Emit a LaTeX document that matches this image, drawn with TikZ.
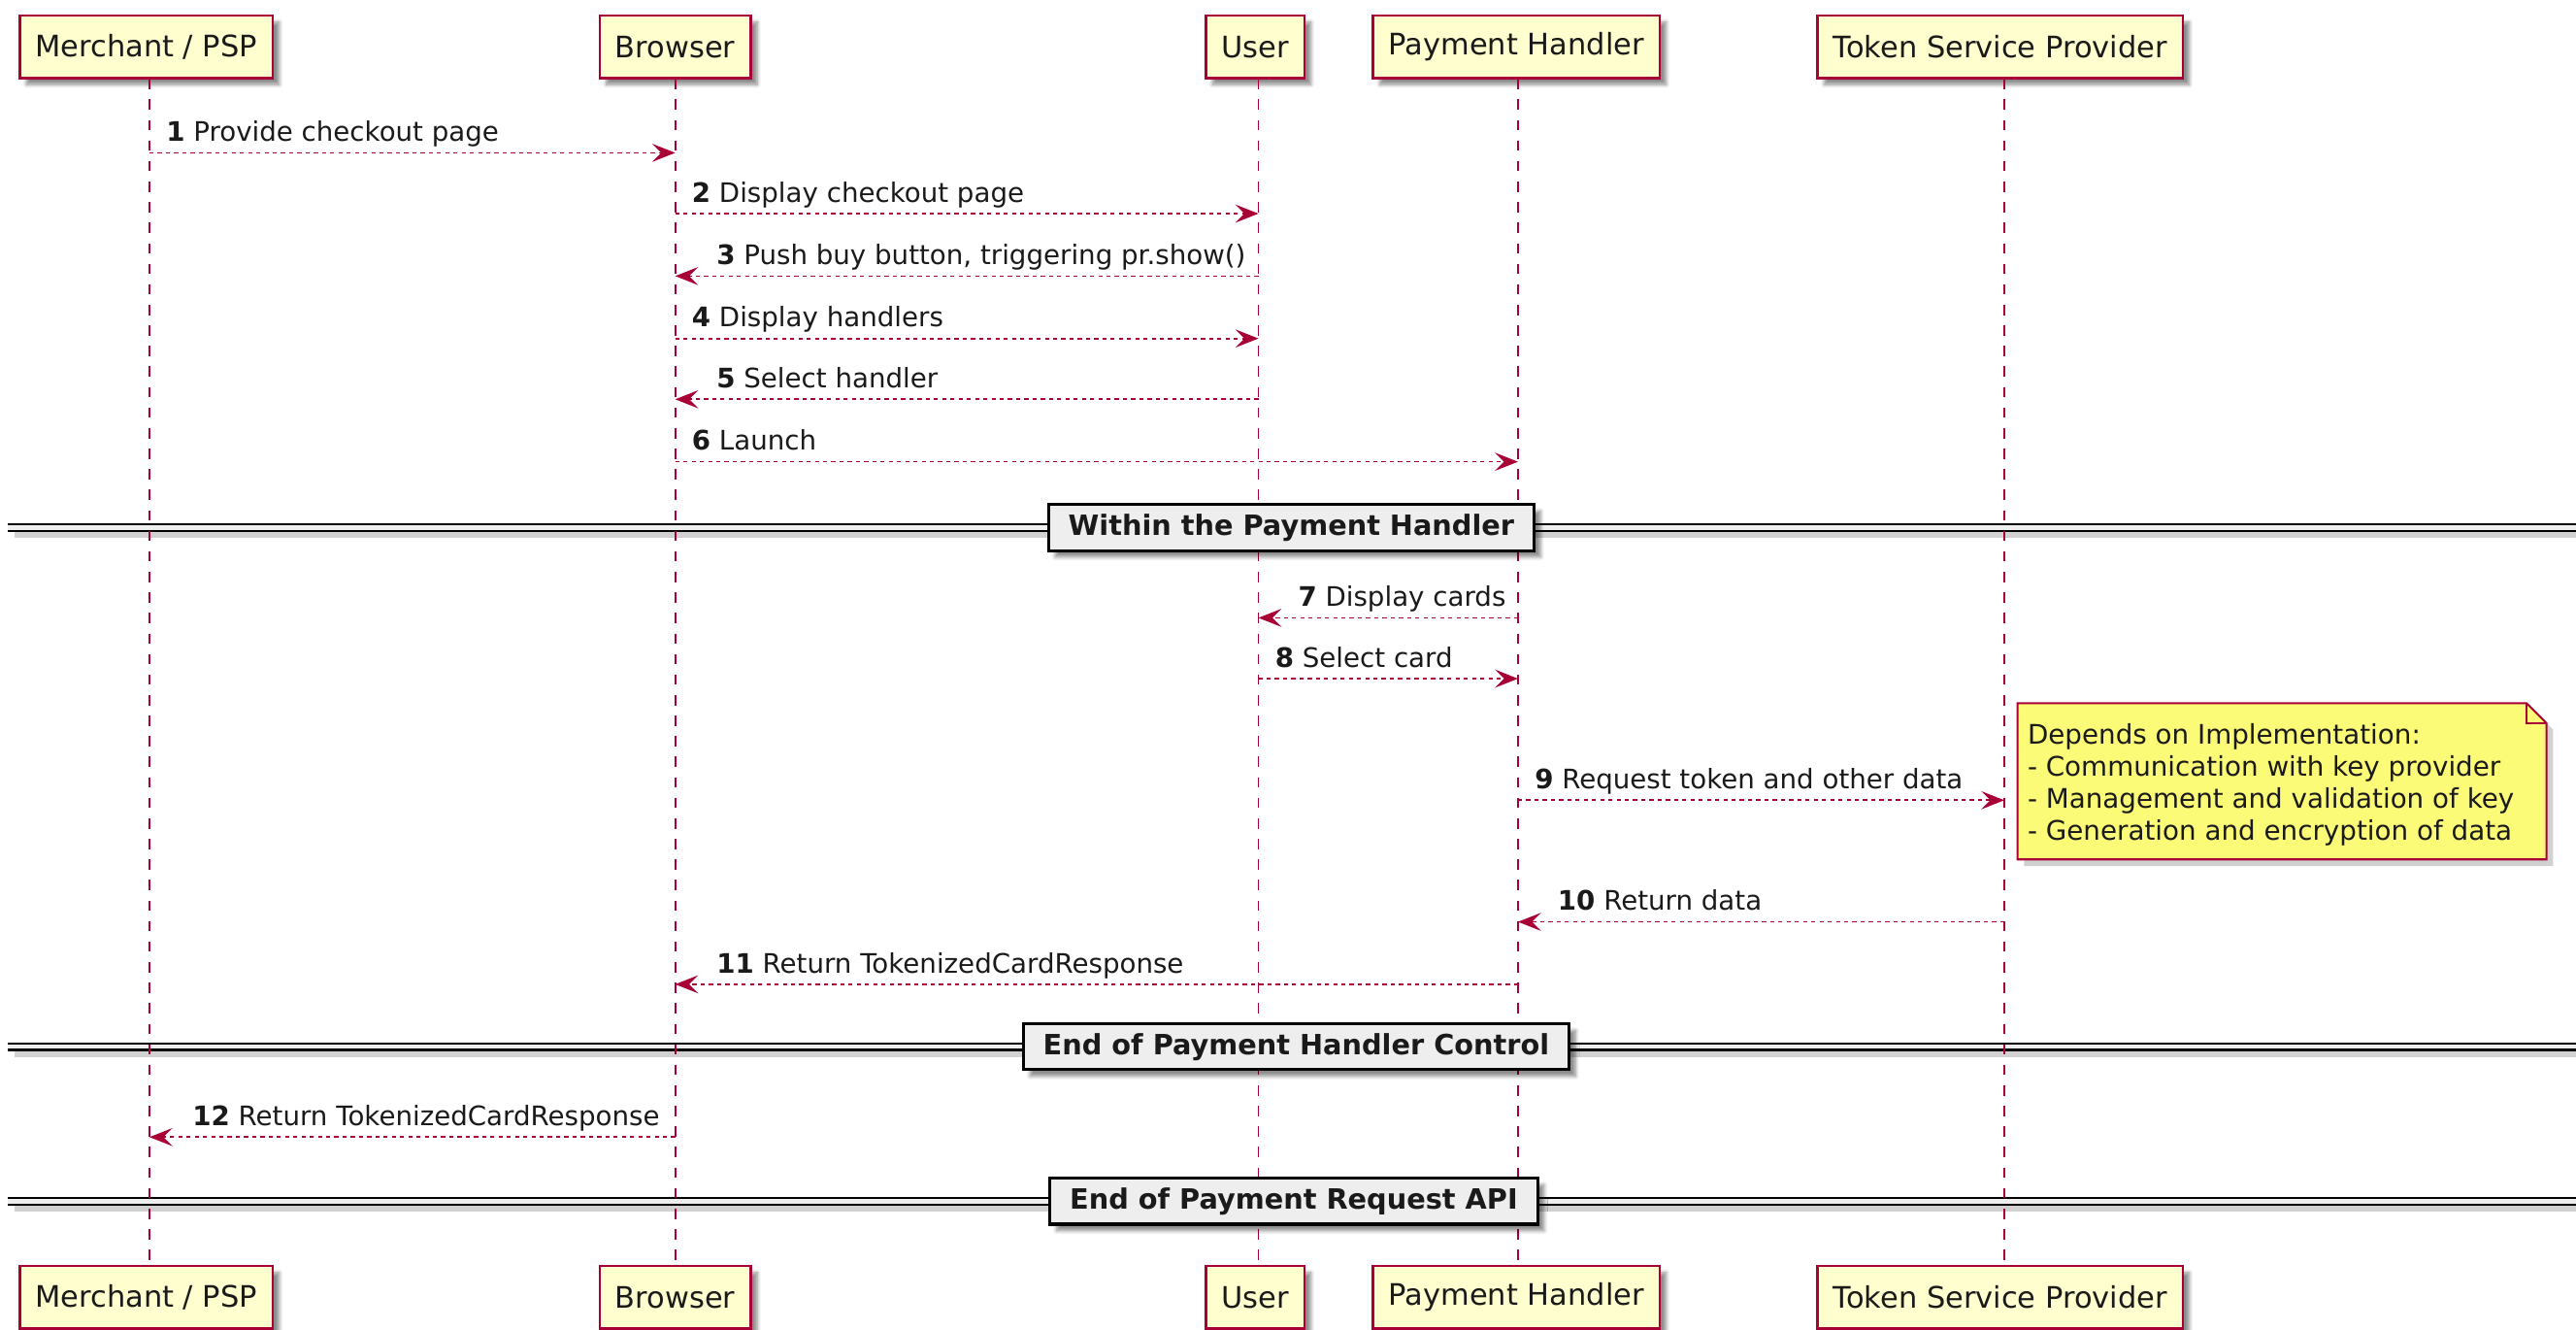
\documentclass[tikz,border=0pt]{standalone}
\usepackage{fontspec}
\setmainfont{DejaVu Sans}
\usetikzlibrary{arrows.meta,shadows.blur,backgrounds,calc}
\definecolor{umlred}{HTML}{A80036}
\definecolor{partfill}{HTML}{FEFECE}
\definecolor{notefill}{HTML}{FBFB77}
\definecolor{sepfill}{HTML}{EEEEEE}
\definecolor{txt}{HTML}{1A1A1A}
\tikzset{
  partbox/.style={draw=umlred, line width=1.5pt, fill=partfill, minimum height=38pt,
    inner xsep=9.5pt, text=txt, font=\fontsize{18}{21}\selectfont,
    blur shadow={shadow xshift=4pt, shadow yshift=-4pt, shadow blur steps=6, shadow opacity=45}},
  lifeline/.style={draw=umlred, line width=1pt, dash pattern=on 6.25pt off 6.25pt},
  msg/.style={draw=umlred, line width=1pt, dash pattern=on 2.5pt off 2.5pt,
    -{Stealth[length=14pt,width=11pt,inset=5.5pt,fill=umlred]}},
  lbl/.style={font=\fontsize{16.35}{19.5}\selectfont, text=txt, inner sep=0pt},
  sepline/.style={line width=1.3pt, draw=black, double=sepfill, double distance=2.6pt},
  sepshadow/.style={line width=5pt, draw=black!18},
  sepbox/.style={draw=black, line width=1.8pt, fill=sepfill, minimum height=28pt,
    inner xsep=12pt, text=txt, font=\fontsize{17}{20}\selectfont\bfseries,
    blur shadow={shadow xshift=4pt, shadow yshift=-4pt, shadow blur steps=6, shadow opacity=45}},
  notetext/.style={font=\fontsize{16.4}{19.5}\selectfont, text=txt, align=left, inner sep=0pt},
  notebox/.style={draw=umlred, line width=1.2pt, fill=notefill},
}
\begin{document}
\begin{tikzpicture}[x=1pt,y=-1pt]
\useasboundingbox (0,0) rectangle (1568,809);
% row coordinates
\coordinate (r1) at (0,93);
\coordinate (r2) at (0,130);
\coordinate (r3) at (0,168);
\coordinate (r4) at (0,206);
\coordinate (r5) at (0,243);
\coordinate (r6) at (0,281);
\coordinate (s1) at (0,321);
\coordinate (r7) at (0,376);
\coordinate (r8) at (0,413);
\coordinate (r9) at (0,487);
\coordinate (r10) at (0,561);
\coordinate (r11) at (0,599);
\coordinate (s2) at (0,637);
\coordinate (r12) at (0,692);
\coordinate (s3) at (0,731);
\coordinate (sl) at (5,0);
\coordinate (sr) at (1568,0);

% participants
\node[partbox] (mer) at (89,28.5) {Merchant / PSP};
\node[partbox] (bro) at (411,28.5) {Browser};
\node[partbox] (usr) at (764,28.5) {User};
\node[partbox] (ph) at (923,28.5) {Payment Handler};
\node[partbox] (tsp) at (1217.5,28.5) {Token Service Provider};
\node[partbox] (merB) at (89,789.5) {Merchant / PSP};
\node[partbox] (broB) at (411,789.5) {Browser};
\node[partbox] (usrB) at (764,789.5) {User};
\node[partbox] (phB) at (923,789.5) {Payment Handler};
\node[partbox] (tspB) at (1217.5,789.5) {Token Service Provider};

% lifeline anchor points (lifelines sit at these x positions)
\coordinate (merT) at (91,48);   \coordinate (merE) at (91,771);
\coordinate (broT) at (411,48);  \coordinate (broE) at (411,771);
\coordinate (usrT) at (766,48);  \coordinate (usrE) at (766,771);
\coordinate (phT) at (924,48);   \coordinate (phE) at (924,771);
\coordinate (tspT) at (1220,48); \coordinate (tspE) at (1220,771);

% separator lines (under lifelines)
\foreach \s in {s1,s2,s3}{
  \draw[sepshadow] ($(sl |- \s)+(4,4)$) -- ($(sr |- \s)+(4,4)$);
  \draw[sepline] (sl |- \s) -- (sr |- \s);
}

% lifelines
\draw[lifeline] (merT) -- (merE);
\draw[lifeline] (broT) -- (broE);
\draw[lifeline] (usrT) -- (usrE);
\draw[lifeline] (phT) -- (phE);
\draw[lifeline] (tspT) -- (tspE);

% separator boxes
\node[sepbox] (sep1) at (786,321) {Within the Payment Handler};
\node[sepbox] (sep2) at (789,637) {End of Payment Handler Control};
\node[sepbox] (sep3) at (787.5,731) {End of Payment Request API};

% messages
\draw[msg] (merT |- r1) -- (broT |- r1);
\node[lbl, anchor=base west] (l1) at ($(merT |- r1)+(10,-7)$) {\textbf{1} Provide checkout page};
\draw[msg] (broT |- r2) -- (usrT |- r2);
\node[lbl, anchor=base west] (l2) at ($(broT |- r2)+(10,-7)$) {\textbf{2} Display checkout page};
\draw[msg] (usrT |- r3) -- (broT |- r3);
\node[lbl, anchor=base west] (l3) at ($(broT |- r3)+(25,-7)$) {\textbf{3} Push buy button, triggering pr.show()};
\draw[msg] (broT |- r4) -- (usrT |- r4);
\node[lbl, anchor=base west] (l4) at ($(broT |- r4)+(10,-7)$) {\textbf{4} Display handlers};
\draw[msg] (usrT |- r5) -- (broT |- r5);
\node[lbl, anchor=base west] (l5) at ($(broT |- r5)+(25,-7)$) {\textbf{5} Select handler};
\draw[msg] (broT |- r6) -- (phT |- r6);
\node[lbl, anchor=base west] (l6) at ($(broT |- r6)+(10,-7)$) {\textbf{6} Launch};
\draw[msg] (phT |- r7) -- (usrT |- r7);
\node[lbl, anchor=base west] (l7) at ($(usrT |- r7)+(24,-7)$) {\textbf{7} Display cards};
\draw[msg] (usrT |- r8) -- (phT |- r8);
\node[lbl, anchor=base west] (l8) at ($(usrT |- r8)+(10,-7)$) {\textbf{8} Select card};
\draw[msg] (phT |- r9) -- (tspT |- r9);
\node[lbl, anchor=base west] (l9) at ($(phT |- r9)+(10,-7)$) {\textbf{9} Request token and other data};
\draw[msg] (tspT |- r10) -- (phT |- r10);
\node[lbl, anchor=base west] (l10) at ($(phT |- r10)+(24,-7)$) {\textbf{10} Return data};
\draw[msg] (phT |- r11) -- (broT |- r11);
\node[lbl, anchor=base west] (l11) at ($(broT |- r11)+(25,-7)$) {\textbf{11} Return TokenizedCardResponse};
\draw[msg] (broT |- r12) -- (merT |- r12);
\node[lbl, anchor=base west] (l12) at ($(merT |- r12)+(26,-7)$) {\textbf{12} Return TokenizedCardResponse};

% note
\node[notetext, anchor=north west] (note) at (1234,440) {Depends on Implementation:\\- Communication with key provider\\- Management and validation of key\\- Generation and encryption of data};
\begin{scope}[on background layer]
  \coordinate (nA) at (1228,428);
  \coordinate (nB) at (1538,428);
  \coordinate (nC) at (1550,440);
  \coordinate (nD) at (1550,523);
  \coordinate (nE) at (1228,523);
  \fill[black!30, opacity=0.6] ($(nA)+(4,4)$) -- ($(nB)+(4,4)$) -- ($(nC)+(4,4)$) -- ($(nD)+(4,4)$) -- ($(nE)+(4,4)$) -- cycle;
  \draw[notebox] (nA) -- (nB) -- (nC) -- (nD) -- (nE) -- cycle;
  \draw[draw=umlred, line width=1.2pt] (nB) -- (nB |- nC) -- (nC);
\end{scope}
\end{tikzpicture}
\end{document}
